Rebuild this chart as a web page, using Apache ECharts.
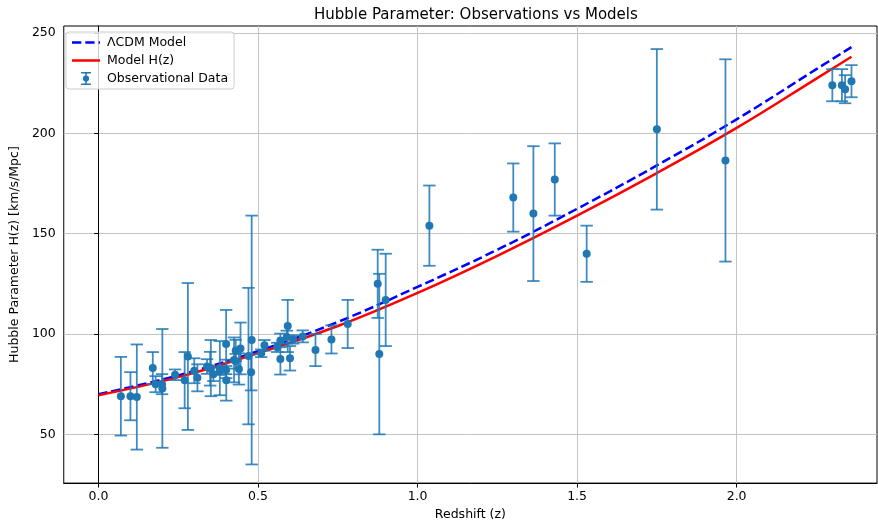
<!DOCTYPE html>
<html><head><meta charset="utf-8">
<script src="https://cdn.jsdelivr.net/npm/echarts@6/dist/echarts.min.js"></script>
<style>html,body{margin:0;padding:0;background:#fff}#c{width:878px;height:526px}</style>
</head><body><div id="c"></div>
<script>
// Observational H(z) data
const obsZ = [0.07,0.1,0.12,0.17,0.179,0.199,0.2,0.24,0.27,0.28,0.3,0.31,0.34,0.35,0.352,0.36,0.38,0.3802,0.4,0.4,0.4004,0.4247,0.43,0.43,0.44,0.44497,0.47,0.4783,0.48,0.51,0.52,0.56,0.57,0.57,0.59,0.593,0.6,0.61,0.64,0.68,0.73,0.781,0.875,0.88,0.9,1.037,1.3,1.363,1.43,1.53,1.75,1.965,2.3,2.33,2.34,2.36];
const obsH = [69,69,68.6,83,75,75,72.9,79.69,77,88.8,81.7,78.18,83.8,82.7,83,79.93,81.5,83,95,82.04,77,87.1,86.45,91.8,82.6,92.8,89,80.9,97,90.4,94.35,93.34,87.6,96.8,98.48,104,87.9,97.3,98.82,92,97.3,105,125,90,117,154,168,160,177,140,202,186.5,224,224,222,226];
const obsErr = [19.6,12,26.2,8,4,5,29.6,2.65,14,36.6,6.22,6.74,3.66,8.4,14,3.39,1.9,13.5,17,2.03,10.2,11.2,3.68,5.3,7.8,12.9,34,9,62,1.9,2.64,2.3,7.8,3.4,3.18,13,6.1,2.1,2.98,8,7,12,17,40,23,20,17,33.6,18,14,40,50.4,8,8,7,8];
// Model curves
const modelZ = [0,0.25,0.5,0.75,1.0,1.25,1.5,1.75,2.0,2.25,2.36];
const lcdmH  = [70,79.4,91.5,106,123.5,142,162.4,184,207,232,243];
const modelH = [69.5,78.5,90.5,104,120.5,139,159,180.2,202.7,227.3,238.2];
// Axis ticks
const xTicks = [0,0.5,1.0,1.5,2.0];
const yTicks = [50,100,150,200,250];

const FONT = 'DejaVu Sans';
const FS = 12.5;
const blue = '#1f77b4';
const barColor = 'rgba(31,119,180,0.85)';

const obsData = obsZ.map((z,i)=>[z, obsH[i], obsErr[i]]);
const lcdmData = modelZ.map((z,i)=>[z, lcdmH[i]]);
const modelData = modelZ.map((z,i)=>[z, modelH[i]]);

const chart = echarts.init(document.getElementById('c'), null, {renderer:'canvas'});
chart.setOption({
  animation:false,
  backgroundColor:'#fff',
  textStyle:{fontFamily:FONT},
  title:{text:'Hubble Parameter: Observations vs Models', left:309, top:3,
    textStyle:{fontFamily:FONT,fontSize:15,fontWeight:'normal',color:'#000'}},
  grid:{left:62,right:1,top:26,bottom:41,show:true,borderColor:'#000',borderWidth:1,backgroundColor:'transparent',containLabel:false},
  legend:{
    orient:'vertical', left:66, top:32,
    padding:[4,6,4,6],
    backgroundColor:'rgba(255,255,255,0.8)', borderColor:'#cccccc', borderWidth:1, borderRadius:3,
    itemWidth:28, itemHeight:13, itemGap:5,
    symbolKeepAspect:true,
    textStyle:{fontFamily:FONT,fontSize:FS,color:'#000',padding:[0,0,0,2]},
    data:[
      {name:'ΛCDM Model', icon:'path://M0,0h9.3v2.5h-9.3z M13.3,0h9.3v2.5h-9.3z M26.6,0h1.4v2.5h-1.4z', itemStyle:{color:'#0000ff'}},
      {name:'Model H(z)', icon:'path://M0,0h28v2.5h-28z', itemStyle:{color:'#ff0000'}},
      {name:'Observational Data', icon:'path://M2,0h12v1.9h-12z M7.05,0h1.9v16h-1.9z M2,14.1h12v1.9h-12z M8,4.2a3.8,3.8 0 1,1 0,7.6a3.8,3.8 0 1,1 0,-7.6z', itemStyle:{color:blue}}
    ]
  },
  xAxis:{
    type:'value', min:-0.109, max:2.44,
    name:'Redshift (z)', nameLocation:'middle', nameGap:23,
    nameTextStyle:{fontFamily:FONT,fontSize:FS,color:'#000'},
    axisLine:{show:true,lineStyle:{color:'#000',width:1}},
    axisTick:{show:true,customValues:xTicks,length:4.4,lineStyle:{color:'#000'}},
    axisLabel:{customValues:xTicks,formatter:v=>v.toFixed(1),fontFamily:FONT,fontSize:FS,color:'#000',margin:7},
    splitLine:{show:true,lineStyle:{color:'#c4c4c4',width:1}}
  },
  yAxis:{
    type:'value', min:25.7, max:253.5,
    name:'Hubble Parameter H(z) [km/s/Mpc]', nameLocation:'middle', nameGap:35,
    nameTextStyle:{fontFamily:FONT,fontSize:FS,color:'#000'},
    axisLine:{show:true,lineStyle:{color:'#000',width:1}},
    axisTick:{show:true,customValues:yTicks,length:4.4,lineStyle:{color:'#000'}},
    axisLabel:{customValues:yTicks,formatter:v=>String(v),fontFamily:FONT,fontSize:FS,color:'#000',margin:8},
    splitLine:{show:true,lineStyle:{color:'#c4c4c4',width:1}}
  },
  series:[
    {
      name:'ΛCDM Model', type:'line', data:lcdmData, smooth:0.4, symbol:'none', z:3,
      lineStyle:{color:'#0000ff',width:2.5,type:[9.3,4]}, itemStyle:{color:'#0000ff'}
    },
    {
      name:'Model H(z)', type:'line', data:modelData, smooth:0.4, symbol:'none', z:3,
      lineStyle:{color:'#ff0000',width:2.5}, itemStyle:{color:'#ff0000'}
    },
    {
      name:'errbars', type:'custom', data:obsData, z:4,
      encode:{x:0,y:1},
      renderItem:function(params, api){
        const x = api.value(0), y = api.value(1), e = api.value(2);
        const top = api.coord([x, y+e]), bot = api.coord([x, y-e]);
        const cw = 6.2;
        const st = {stroke:barColor, lineWidth:1.8, fill:null};
        return {type:'group', children:[
          {type:'line', shape:{x1:top[0],y1:top[1],x2:bot[0],y2:bot[1]}, style:st},
          {type:'line', shape:{x1:top[0]-cw,y1:top[1],x2:top[0]+cw,y2:top[1]}, style:st},
          {type:'line', shape:{x1:bot[0]-cw,y1:bot[1],x2:bot[0]+cw,y2:bot[1]}, style:st}
        ]};
      }
    },
    {
      name:'Observational Data', type:'scatter', data:obsData, z:5,
      symbol:'circle', symbolSize:8, itemStyle:{color:blue, opacity:1}
    }
  ]
});
</script>
</body></html>
